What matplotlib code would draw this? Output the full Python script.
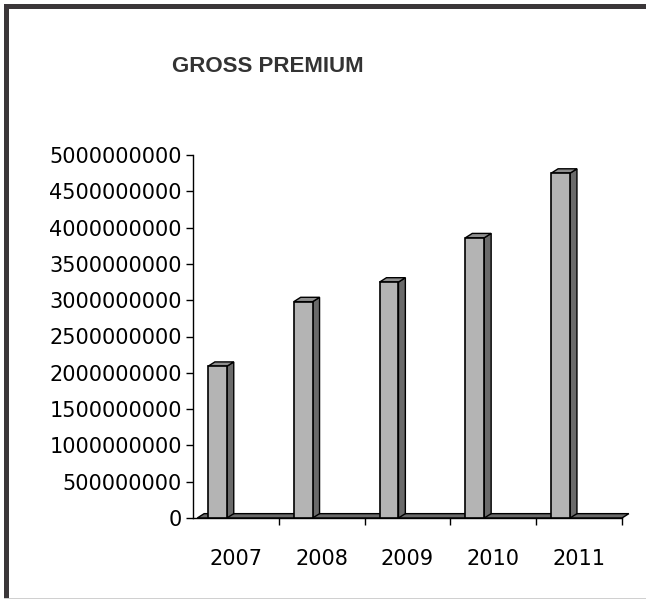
import matplotlib
matplotlib.use("Agg")
import matplotlib.pyplot as plt
from matplotlib.patches import Polygon, Rectangle

years = ["2007", "2008", "2009", "2010", "2011"]
premium = [2.09e9, 2.98e9, 3.25e9, 3.86e9, 4.75e9]
yticks = [0, 5e8, 1e9, 1.5e9, 2e9, 2.5e9, 3e9, 3.5e9, 4e9, 4.5e9, 5e9]

FRONT = "#b4b4b4"
SIDE = "#6a6a6a"
TOP = "#8e8e8e"
DX = 0.08      # depth offset in category units
DY = 6e7       # depth offset in data units

fig = plt.figure(figsize=(6.46, 6.0), dpi=100)
W, H = 646, 600

# outer frame
fig.patches.append(Rectangle((4 / W, 1 - 9 / H), 1 - 4 / W, 5 / H, transform=fig.transFigure,
                             facecolor="#3b3739", edgecolor="none"))
fig.patches.append(Rectangle((4 / W, 2 / H), 5 / W, 1 - 6 / H, transform=fig.transFigure,
                             facecolor="#3b3739", edgecolor="none"))
fig.patches.append(Rectangle((4 / W, 1 / H), 1 - 4 / W, 1.2 / H, transform=fig.transFigure,
                             facecolor="#d0d0d0", edgecolor="none"))

fig.text(268 / W, 1 - 67 / H, "GROSS PREMIUM", ha="center", va="center",
         fontsize=16, fontweight="bold", color="#333333",
         family=["Liberation Sans Narrow", "Liberation Sans"])

ax = fig.add_axes([193 / W, 82 / H, (622 - 193) / W, (518 - 155) / H])
ax.set_xlim(-0.5, 4.5)
ax.set_ylim(0, 5e9)

# floor strip
floor = Polygon([(-0.45, 0), (4.5, 0), (4.5 + DX, DY), (-0.45 + DX, DY)], closed=True,
                facecolor=SIDE, edgecolor="black", lw=1, zorder=1, clip_on=False)
ax.add_patch(floor)

x = list(range(len(years)))
left = [i - 0.5 + 0.175 for i in x]
bars = ax.bar(left, premium, width=0.22, align="edge", color=FRONT,
              edgecolor="black", lw=1.2, zorder=3)
for b in bars:
    x0, w, h = b.get_x(), b.get_width(), b.get_height()
    side = Polygon([(x0 + w, 0), (x0 + w + DX, DY), (x0 + w + DX, h + DY), (x0 + w, h)],
                   closed=True, facecolor=SIDE, edgecolor="black", lw=1, zorder=2)
    top = Polygon([(x0, h), (x0 + w, h), (x0 + w + DX, h + DY), (x0 + DX, h + DY)],
                  closed=True, facecolor=TOP, edgecolor="black", lw=1, zorder=2)
    ax.add_patch(side)
    ax.add_patch(top)

ax.set_yticks(yticks)
ax.set_yticklabels([str(int(v)) for v in yticks])
ax.set_xticks([i + 0.5 for i in x])
ax.set_xticklabels([])
ax.set_xticks(x, minor=True)
ax.set_xticklabels(years, minor=True)
ax.tick_params(axis="x", which="minor", length=0, pad=22, labelsize=15)
ax.tick_params(axis="x", which="major", length=5, width=1)
ax.tick_params(axis="y", length=5, width=1, pad=3, labelsize=15)

for s in ["top", "right"]:
    ax.spines[s].set_visible(False)
ax.spines["left"].set_linewidth(1)
ax.spines["bottom"].set_linewidth(1)

fig.savefig("out.png", dpi=100)
